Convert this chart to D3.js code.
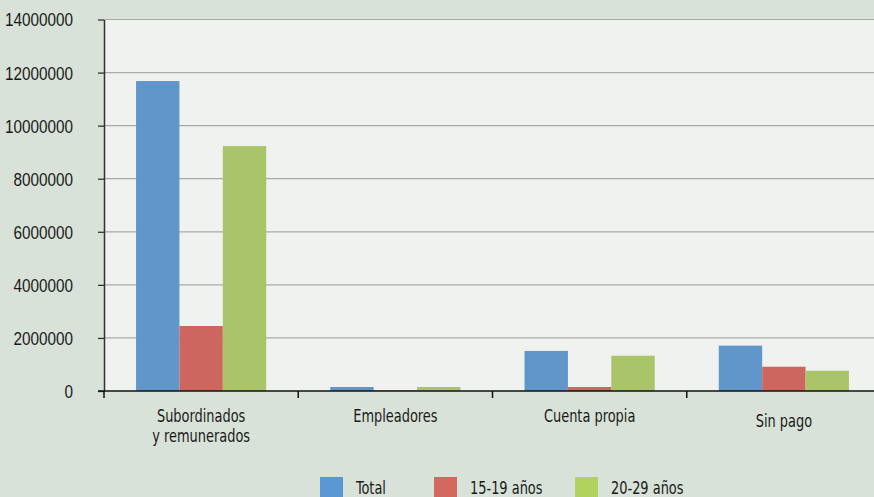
<!DOCTYPE html>
<html>
<head>
<meta charset="utf-8">
<script src="https://cdn.jsdelivr.net/npm/d3@7"></script>
<style>
  html, body { margin: 0; padding: 0; background: #d8e2d8; }
  svg { display: block; font-family: "Liberation Sans Narrow", "DejaVu Sans Condensed", sans-serif; }
</style>
</head>
<body>
<div id="chart"></div>
<script>
const width = 874, height = 497;

// data
const categories = ["Subordinados\ny remunerados", "Empleadores", "Cuenta propia", "Sin pago"];
const seriesNames = ["Total", "15-19 años", "20-29 años"];
const totalValues = [11680000, 150000, 1510000, 1710000];
const age1519Values = [2450000, 20000, 150000, 915000];
const age2029Values = [9230000, 150000, 1330000, 765000];
const yTicks = [0, 2000000, 4000000, 6000000, 8000000, 10000000, 12000000, 14000000];

const barColors = ["#6096c9", "#cd665f", "#aac46a"];
const legendColors = ["#5a98d3", "#d4685f", "#b1d25e"];

const margin = { top: 19.5, right: -7, bottom: 106, left: 104 };
const innerW = width - margin.left - margin.right;
const innerH = height - margin.top - margin.bottom;
const squeeze = 0.8; // the original font is a condensed one

const rows = categories.map(function (c, i) {
    return { cat: c, values: [totalValues[i], age1519Values[i], age2029Values[i]] };
});

var svg = d3.select("#chart").append("svg")
    .attr("width", width)
    .attr("height", height);

svg.append("rect")
    .attr("width", width).attr("height", height)
    .attr("fill", "#d8e2d8");

var g = svg.append("g")
    .attr("transform", "translate(" + margin.left + "," + margin.top + ")");

var x0 = d3.scaleBand()
    .domain(categories)
    .range([0, innerW])
    .paddingInner(0.33)
    .paddingOuter(0.165);

var x1 = d3.scaleBand()
    .domain(seriesNames)
    .range([0, x0.bandwidth()]);

var y = d3.scaleLinear()
    .domain([0, 14000000])
    .range([innerH, 0]);

// plot area
g.append("rect")
    .attr("width", innerW).attr("height", innerH)
    .attr("fill", "#f0f2ef");

// gridlines
g.selectAll(".grid")
    .data(yTicks.filter(function (d) { return d > 0; }))
    .enter().append("line")
    .attr("class", "grid")
    .attr("x1", 0).attr("x2", innerW)
    .attr("y1", function (d) { return y(d); })
    .attr("y2", function (d) { return y(d); })
    .attr("stroke", "#a8aaa8")
    .attr("stroke-width", 1.2);

// bars
var groups = g.selectAll(".cat")
    .data(rows)
    .enter().append("g")
    .attr("class", "cat")
    .attr("transform", function (d) { return "translate(" + x0(d.cat) + ",0)"; });

groups.selectAll("rect")
    .data(function (d) { return d.values.map(function (v, i) { return { name: seriesNames[i], value: v, i: i }; }); })
    .enter().append("rect")
    .attr("x", function (d) { return x1(d.name); })
    .attr("width", x1.bandwidth())
    .attr("y", function (d) { return y(d.value); })
    .attr("height", function (d) { return innerH - y(d.value); })
    .attr("fill", function (d) { return barColors[d.i]; });

// y axis
var yAxis = g.append("g")
    .call(d3.axisLeft(y).tickValues(yTicks).tickFormat(d3.format("d")).tickSize(6).tickSizeOuter(0));
yAxis.select(".domain").attr("stroke", "#333").attr("stroke-width", 1.5);
yAxis.selectAll(".tick line").attr("stroke", "#333").attr("stroke-width", 1.3);
yAxis.selectAll("text")
    .attr("fill", "#1a1a1a")
    .style("font-size", "18px")
    .attr("x", -31 / 0.85)
    .attr("transform", "scale(0.85,1)")
    .attr("dy", "0.36em");

// x axis with ticks between groups
var step = x0.step();
var xAxisG = g.append("g").attr("transform", "translate(0," + innerH + ")");
xAxisG.append("line")
    .attr("x1", -6).attr("x2", innerW)
    .attr("stroke", "#111").attr("stroke-width", 1.5);
xAxisG.selectAll(".xtick")
    .data(d3.range(categories.length + 1))
    .enter().append("line")
    .attr("class", "xtick")
    .attr("x1", function (i) { return i * step; })
    .attr("x2", function (i) { return i * step; })
    .attr("y1", 0).attr("y2", 7)
    .attr("stroke", "#111").attr("stroke-width", 1.5);

var labels = xAxisG.selectAll(".xlabel")
    .data(categories)
    .enter().append("text")
    .attr("class", "xlabel")
    .attr("text-anchor", "middle")
    .attr("fill", "#1a1a1a")
    .style("font-size", "18px")
    .attr("transform", function (d, i) {
        var extra = i === categories.length - 1 ? 5 : 0;
        return "translate(" + (x0(d) + x0.bandwidth() / 2) + "," + (31 + extra) + ") scale(" + squeeze + ",1)";
    });

labels.selectAll("tspan")
    .data(function (d) { return d.split("\n"); })
    .enter().append("tspan")
    .attr("x", 0)
    .attr("dy", function (d, i) { return i === 0 ? 0 : 20; })
    .text(function (d) { return d; });

// legend
var legendX = [320, 434, 575];
var legend = svg.selectAll(".legend")
    .data(seriesNames)
    .enter().append("g")
    .attr("class", "legend")
    .attr("transform", function (d, i) { return "translate(" + legendX[i] + ",477)"; });

legend.append("rect")
    .attr("width", 23).attr("height", 23)
    .attr("fill", function (d, i) { return legendColors[i]; });

legend.append("text")
    .attr("transform", "translate(36,17) scale(" + squeeze + ",1)")
    .attr("fill", "#1a1a1a")
    .style("font-size", "18px")
    .text(function (d) { return d; });
</script>
</body>
</html>
